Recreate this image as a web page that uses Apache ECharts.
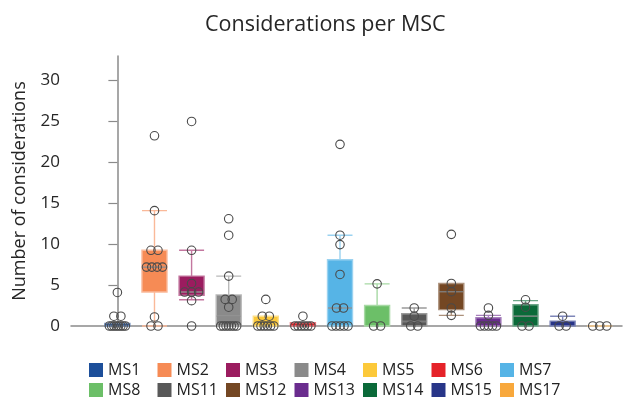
<!DOCTYPE html>
<html lang="en">
<head>
<meta charset="UTF-8">
<title>Considerations per MSC</title>
<script src="https://cdn.jsdelivr.net/npm/echarts@6/dist/echarts.min.js"></script>
<style>
  html, body { margin: 0; padding: 0; background: #fff; }
  #chart { width: 624px; height: 405px; }
</style>
</head>
<body>
<div id="chart"></div>
<script>
var categories = ['MS1', 'MS2', 'MS3', 'MS4', 'MS5', 'MS6', 'MS7', 'MS8', 'MS11', 'MS12', 'MS13', 'MS14', 'MS15', 'MS17'];
var colors = ['#1d4f9a', '#f68b55', '#9b1c5f', '#8a8a8a', '#fcc93a', '#e52229', '#56b4e6',
              '#6cbf68', '#585858', '#744723', '#6a2c8e', '#0b6a39', '#283588', '#f8a83c'];
// [min, Q1, median, Q3, max]
var boxes = [
  [0, 0, 0, 0.3, 0.3],
  [0, 4.15, 7.2, 9.25, 14.1],
  [3.2, 3.75, 4.15, 6.1, 9.25],
  [0, 0, 1.2, 3.8, 6.1],
  [0, 0, 0, 1.2, 1.2],
  [0, 0, 0, 0.4, 0.4],
  [0, 0, 2.2, 8.1, 11.1],
  [0, 0, 0, 2.5, 5.15],
  [0, 0, 0.55, 1.5, 2.2],
  [1.3, 2.0, 4.2, 5.2, 5.2],
  [0, 0, 0, 1.0, 1.3],
  [0, 0, 1.2, 2.6, 3.1],
  [0, 0, 0, 0.6, 1.2],
  [0, 0, 0, 0, 0]
];
// individual observations
var points = [
  [0, 0, 0, 0, 0, 0, 0, 0, 1.2, 1.2, 4.1],
  [0, 0, 1.1, 7.2, 7.2, 7.2, 7.2, 9.25, 9.25, 14.1, 23.25],
  [0, 3.1, 4.15, 4.15, 4.15, 5.2, 9.25, 25],
  [0, 0, 0, 0, 0, 0, 0, 2.3, 3.25, 3.25, 6.1, 11.1, 13.1],
  [0, 0, 0, 0, 0, 0, 1.2, 1.2, 3.25],
  [0, 0, 0, 0, 0, 0, 1.2],
  [0, 0, 0, 0, 0, 2.2, 2.2, 6.3, 9.95, 11.1, 22.2],
  [0, 0, 5.15],
  [0, 0, 1.2, 2.2],
  [1.3, 2.2, 4.2, 5.2, 11.2],
  [0, 0, 0, 0, 0, 1.3, 2.2],
  [0, 0, 2.3, 3.2],
  [0, 0, 1.2],
  [0, 0, 0]
];
var yTicks = [0, 5, 10, 15, 20, 25, 30];

function mix(hex, a) {
  var r = parseInt(hex.substr(1, 2), 16), g = parseInt(hex.substr(3, 2), 16), b = parseInt(hex.substr(5, 2), 16);
  var m = function (c) { return Math.round(c * a + 255 * (1 - a)); };
  return 'rgb(' + m(r) + ',' + m(g) + ',' + m(b) + ')';
}

// spread tied values sideways (px)
function spread(vals) {
  var counts = {}, seen = {};
  vals.forEach(function (v) { counts[v] = (counts[v] || 0) + 1; });
  return vals.map(function (v) {
    var n = counts[v];
    seen[v] = seen[v] === undefined ? 0 : seen[v] + 1;
    if (n === 1) return 0;
    var span = Math.min(7 * (n - 1), 16);
    return -span / 2 + seen[v] * span / (n - 1);
  });
}

var font = 'Open Sans';
var series = [];

series.push({
  type: 'boxplot',
  name: 'box',
  boxWidth: [25, 25],
  z: 2,
  data: boxes.map(function (b, i) {
    return {
      value: [i].concat(b),
      itemStyle: { color: colors[i], borderColor: mix(colors[i], 0.6), borderWidth: 1.4 }
    };
  })
});

series.push({
  type: 'scatter',
  name: 'median',
  symbol: 'rect',
  symbolSize: [24, 1.2],
  z: 3,
  itemStyle: { color: 'rgba(120,120,120,0.9)', opacity: 1 },
  data: boxes.map(function (b, i) { return [i, b[2]]; })
             .filter(function (d, i) { return boxes[i][2] > boxes[i][1] && boxes[i][2] < boxes[i][3]; })
});

categories.forEach(function (c, i) {
  var offs = spread(points[i]);
  series.push({
    type: 'scatter',
    name: c,
    symbol: 'circle',
    symbolSize: 8.5,
    z: 4,
    itemStyle: { color: 'rgba(255,255,255,0)', borderColor: '#4a4a4a', borderWidth: 1.1, opacity: 1 },
    data: points[i].map(function (v, k) {
      return { value: [i, v], symbolOffset: [offs[k], 0] };
    })
  });
});

var chart = echarts.init(document.getElementById('chart'));
chart.setOption({
  animation: false,
  textStyle: { fontFamily: font },
  title: {
    text: 'Considerations per MSC',
    left: 200,
    top: 9,
    textStyle: { fontFamily: font, fontSize: 21.5, fontWeight: 'normal', color: '#262626' }
  },
  legend: {
    left: 84,
    top: 357,
    width: 485,
    itemWidth: 14,
    itemHeight: 14,
    itemGap: 4,
    itemTextGap: 5,
    selectedMode: false,
    textStyle: { fontFamily: font, fontSize: 16, color: '#222', width: 45.5, lineHeight: 14 },
    data: categories.map(function (c, i) {
      return { name: c, icon: 'rect', itemStyle: { color: colors[i], borderWidth: 0, opacity: 1 } };
    })
  },
  grid: { left: 71, right: 2, top: 56, bottom: 79, outerBoundsMode: 'none' },
  xAxis: {
    type: 'value',
    min: -1.25,
    max: 13.6,
    splitLine: { show: false },
    axisTick: { show: false },
    axisLabel: { show: false },
    axisLine: { show: true, lineStyle: { color: '#8a8a8a', width: 1.5 } }
  },
  yAxis: {
    type: 'value',
    min: 0,
    max: 33,
    name: 'Number of considerations',
    nameLocation: 'middle',
    nameGap: 42,
    nameTextStyle: { fontFamily: font, fontSize: 18, color: '#262626' },
    splitLine: { show: false },
    axisLine: { show: true, lineStyle: { color: '#8a8a8a', width: 1.5 } },
    axisTick: { show: true, length: 9, customValues: yTicks, lineStyle: { color: '#8a8a8a', width: 1.2 } },
    axisLabel: { customValues: yTicks, margin: 11, fontFamily: font, fontSize: 17, color: '#262626' }
  },
  series: series
});
</script>
</body>
</html>
